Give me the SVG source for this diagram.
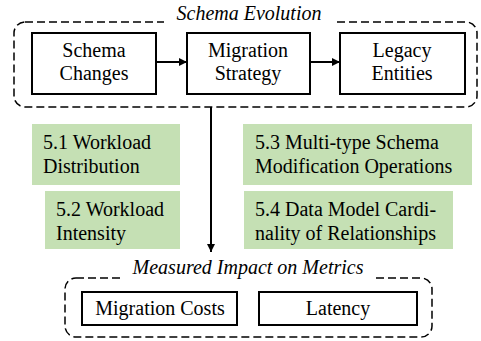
<svg xmlns="http://www.w3.org/2000/svg" width="481" height="341" viewBox="0 0 481 341">
<defs>
<style>
text{font-family:"Liberation Serif","Times New Roman",serif;font-size:20px;fill:#000}
.c{text-anchor:middle}
.it{font-style:italic}
.box{fill:#fff;stroke:#000;stroke-width:2}
.grp{fill:none;stroke:#000;stroke-width:1.5;stroke-dasharray:8 4}
.g{fill:#c5e0b4}
.ln{stroke:#000;stroke-width:2;fill:none}
</style>
<marker id="ah" viewBox="0 0 10 10" refX="10" refY="5" markerWidth="4" markerHeight="4" orient="auto" markerUnits="strokeWidth">
<path d="M0,0 L10,5 L0,10 Z" fill="#000"/>
</marker>
</defs>
<rect width="481" height="341" fill="#fff"/>
<g id="schema-evolution">
<rect class="grp" x="14" y="22" width="463" height="85" rx="11"/>
<rect x="164" y="8" width="172" height="20" fill="#fff"/>
<text class="c it" x="249" y="20">Schema Evolution</text>
</g>
<g id="measured-impact">
<rect class="grp" x="65" y="278" width="367" height="59" rx="11"/>
<rect x="121" y="266" width="255" height="18" fill="#fff"/>
<text class="c it" x="248" y="274">Measured Impact on Metrics</text>
</g>
<g id="connectors">
<line class="ln" x1="156" y1="62" x2="187" y2="62" marker-end="url(#ah)"/>
<line class="ln" x1="310" y1="62" x2="340" y2="62" marker-end="url(#ah)"/>
<line class="ln" x1="211" y1="107" x2="211" y2="252" marker-end="url(#ah)"/>
</g>
<g id="schema-changes">
<rect class="box" x="32" y="33" width="124" height="61"/>
<text class="c" x="94" y="57">Schema</text>
<text class="c" x="94" y="80">Changes</text>
</g>
<g id="migration-strategy">
<rect class="box" x="187" y="33" width="123" height="61"/>
<text class="c" x="248" y="57">Migration</text>
<text class="c" x="248" y="80">Strategy</text>
</g>
<g id="legacy-entities">
<rect class="box" x="340" y="33" width="125" height="61"/>
<text class="c" x="402" y="57">Legacy</text>
<text class="c" x="402" y="80">Entities</text>
</g>
<g id="workload-distribution">
<rect class="g" x="32" y="124" width="148" height="61"/>
<text x="43" y="149">5.1 Workload</text>
<text x="43" y="173">Distribution</text>
</g>
<g id="workload-intensity">
<rect class="g" x="45" y="191" width="135" height="58"/>
<text x="56" y="216">5.2 Workload</text>
<text x="56" y="240">Intensity</text>
</g>
<g id="schema-modification">
<rect class="g" x="243" y="124" width="229" height="61"/>
<text x="255" y="149">5.3 Multi-type Schema</text>
<text x="255" y="173">Modification Operations</text>
</g>
<g id="cardinality">
<rect class="g" x="244" y="191" width="209" height="58"/>
<text x="255" y="216">5.4 Data Model Cardi-</text>
<text x="255" y="240">nality of Relationships</text>
</g>
<g id="migration-costs">
<rect class="box" x="82" y="292" width="155" height="33"/>
<text class="c" x="160" y="315">Migration Costs</text>
</g>
<g id="latency">
<rect class="box" x="259" y="292" width="158" height="33"/>
<text class="c" x="338" y="315">Latency</text>
</g>
</svg>
